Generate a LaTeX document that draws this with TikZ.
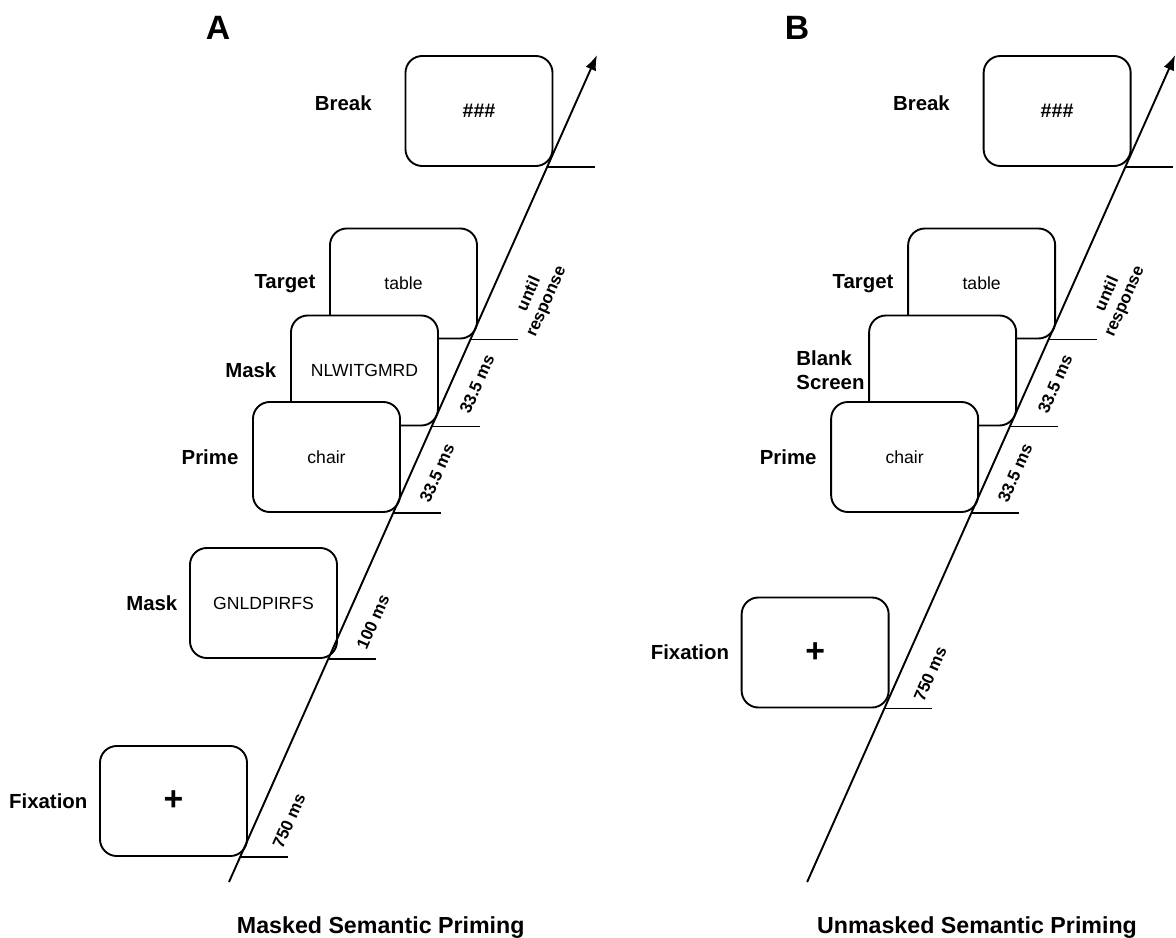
\documentclass[tikz,border=0pt]{standalone}
\usepackage{fontspec}
\setmainfont{Liberation Sans}
\usepackage{tikz}
\usetikzlibrary{positioning,arrows.meta}

\tikzset{
  screen/.style={draw, line width=1.35pt, rounded corners=0.42cm, fill=white,
    minimum width=3.675cm, minimum height=2.75cm, inner sep=0pt,
    font=\fontsize{12.5}{14}\selectfont},
  evt/.style={font=\bfseries\fontsize{14.5}{17}\selectfont, align=left, inner sep=1pt},
  dur/.style={font=\bfseries\fontsize{12}{13.5}\selectfont, rotate=66, align=center},
  onset/.style={line width=1.35pt},
  axis/.style={line width=1.35pt, -{Latex[length=0.38cm,width=0.28cm]}},
  panel/.style={font=\bfseries\fontsize{24}{24}\selectfont},
  caption/.style={font=\bfseries\fontsize{16.5}{18}\selectfont, anchor=base west}
}

\begin{document}
\begin{tikzpicture}[x=0.025cm, y=-0.025cm]
\useasboundingbox (0,0) rectangle (1176,938);

% A: masked
\node[panel] (Ahead) at (218,28) {A};
\coordinate (Ast) at (229,882);
\coordinate (Aend) at (597,55);

\node[screen] (Abrk) at (479,111) {\fontsize{14}{14}\selectfont\bfseries\#\#\#};
\node[screen] (Atgt) at (403.5,283.5) {table};
\node[screen] (Amsk) at (364.5,370.5) {NLWITGMRD};
\node[screen] (Aprm) at (326.5,457) {chair};
\node[screen] (Amsk2) at (263.5,603) {GNLDPIRFS};
\node[screen] (Afix) at (173.5,801) {\fontsize{24}{24}\selectfont\bfseries +};

\node[evt, left=0.78cm of Abrk, yshift=0.2cm] (AbrkL) {Break};
\node[evt, left=0.3cm of Atgt] (AtgtL) {Target};
\node[evt, left=0.3cm of Amsk] (AmskL) {Mask};
\node[evt, left=0.3cm of Aprm] (AprmL) {Prime};
\node[evt, left=0.25cm of Amsk2] (Amsk2L) {Mask};
\node[evt, left=0.25cm of Afix] (AfixL) {Fixation};

\draw[axis] (Ast) -- (Aend);
\draw[onset] (intersection of Ast--Aend and Abrk.south west--Abrk.south east) -- ++(48,0);
\draw[onset] (intersection of Ast--Aend and Atgt.south west--Atgt.south east) -- ++(48,0);
\draw[onset] (intersection of Ast--Aend and Amsk.south west--Amsk.south east) -- ++(48,0);
\draw[onset] (intersection of Ast--Aend and Aprm.south west--Aprm.south east) -- ++(48,0);
\draw[onset] (intersection of Ast--Aend and Amsk2.south west--Amsk2.south east) -- ++(48,0);
\draw[onset] (intersection of Ast--Aend and Afix.south west--Afix.south east) -- ++(48,0);

\node[dur] (Ad1) at (538,298) {until\\response};
\node[dur] (Ad2) at (477,384) {33.5 ms};
\node[dur] (Ad3) at (437,473) {33.5 ms};
\node[dur] (Ad4) at (373,622) {100 ms};
\node[dur] (Ad5) at (289,821) {750 ms};

\node[caption] (Atitle) at (232,933) {Masked Semantic Priming};

% B: unmasked
\begin{scope}[xshift=14.45cm]
\node[panel] (Bhead) at (219,28) {B};
\coordinate (Bst) at (229,882);
\coordinate (Bend) at (597,55);

\node[screen] (Bbrk) at (479,111) {\fontsize{14}{14}\selectfont\bfseries\#\#\#};
\node[screen] (Btgt) at (403.5,283.5) {table};
\node[screen] (Bblk) at (364.5,370.5) {};
\node[screen] (Bprm) at (326.5,457) {chair};
\node[screen] (Bfix) at (237,652.5) {\fontsize{24}{24}\selectfont\bfseries +};

\node[evt, left=0.78cm of Bbrk, yshift=0.2cm] (BbrkL) {Break};
\node[evt, left=0.3cm of Btgt] (BtgtL) {Target};
\node[evt, left=0.05cm of Bblk] (BblkL) {Blank\\Screen};
\node[evt, left=0.3cm of Bprm] (BprmL) {Prime};
\node[evt, left=0.25cm of Bfix] (BfixL) {Fixation};

\draw[axis] (Bst) -- (Bend);
\draw[onset] (intersection of Bst--Bend and Bbrk.south west--Bbrk.south east) -- ++(48,0);
\draw[onset] (intersection of Bst--Bend and Btgt.south west--Btgt.south east) -- ++(48,0);
\draw[onset] (intersection of Bst--Bend and Bblk.south west--Bblk.south east) -- ++(48,0);
\draw[onset] (intersection of Bst--Bend and Bprm.south west--Bprm.south east) -- ++(48,0);
\draw[onset] (intersection of Bst--Bend and Bfix.south west--Bfix.south east) -- ++(48,0);

\node[dur] (Bd1) at (538,298) {until\\response};
\node[dur] (Bd2) at (477,384) {33.5 ms};
\node[dur] (Bd3) at (437,473) {33.5 ms};
\node[dur] (Bd4) at (352,674) {750 ms};

\node[caption] (Btitle) at (234,933) {Unmasked Semantic Priming};
\end{scope}
\end{tikzpicture}
\end{document}
